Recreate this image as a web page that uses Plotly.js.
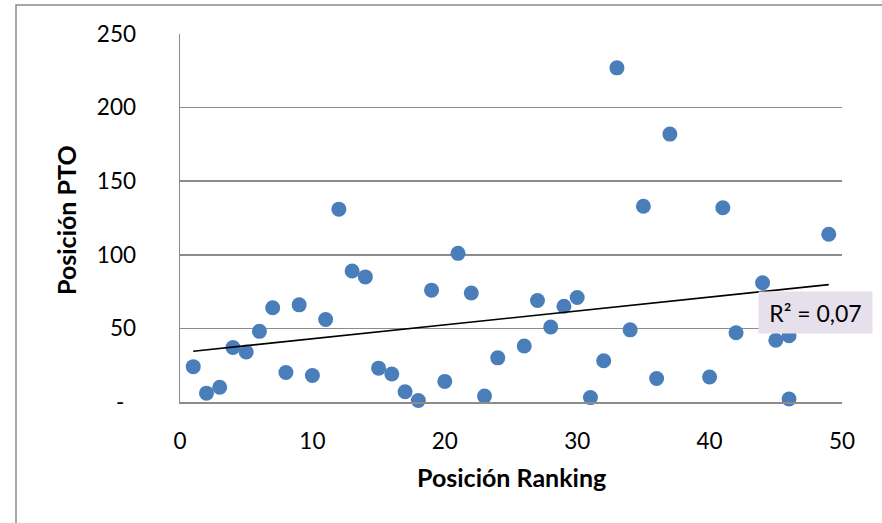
<!DOCTYPE html>
<html>
<head>
<meta charset="utf-8">
<script src="https://cdn.plot.ly/plotly-3.0.1.min.js"></script>
<style>html,body{margin:0;padding:0;background:#fff;}#chart{width:882px;height:523px;}</style>
</head>
<body>
<div id="chart"></div>
<script>
// Posición Ranking (x) vs Posición PTO (y)
var rankingPos = [1,2,3,4,5,6,7,8,9,10,11,12,13,14,15,16,17,18,19,20,21,22,23,24,
                  26,27,28,29,30,31,32,33,34,35,36,37,40,41,42,44,45,46,46,49];
var ptoPos = [24,6,10,37,34,48,64,20,66,18,56,131,89,85,23,19,7,1,76,14,101,74,4,30,
              38,69,51,65,71,3,28,227,49,133,16,182,17,132,47,81,42,45,2,114];
var yTickVals = [0,50,100,150,200,250];
var yTickText = ['-\u00a0\u00a0','50','100','150','200','250'];
var xTickVals = [0,10,20,30,40,50];
var r2Label = 'R² = 0,07';
var xTitle = 'Posición Ranking';
var yTitle = 'Posición PTO';

// linear least-squares trendline from the data
var n = rankingPos.length, sx=0, sy=0, sxx=0, sxy=0;
for (var i=0;i<n;i++){ sx+=rankingPos[i]; sy+=ptoPos[i]; sxx+=rankingPos[i]*rankingPos[i]; sxy+=rankingPos[i]*ptoPos[i]; }
var slope = (n*sxy - sx*sy)/(n*sxx - sx*sx);
var intercept = (sy - slope*sx)/n;
var xMin = Math.min.apply(null, rankingPos), xMax = Math.max.apply(null, rankingPos);
var trendX = [xMin, xMax];
var trendY = trendX.map(function(v){ return intercept + slope*v; });

var fontFam = 'Lato, "Open Sans", sans-serif';
var L=180, R=40, T=34, B=121, W=882, H=523;
var pw = W-L-R, ph = H-T-B;
function px2x(p){ return (p-L)/pw; }
function py2y(p){ return (H-B-p)/ph; }

var traces = [
  { x: rankingPos, y: ptoPos, type:'scatter', mode:'markers',
    marker:{ color:'#4a7ebb', size:15, line:{width:0} }, hoverinfo:'x+y', cliponaxis:false },
  { x: trendX, y: trendY, type:'scatter', mode:'lines',
    line:{ color:'#000000', width:1.6 }, hoverinfo:'skip' }
];

var layout = {
  width: W, height: H,
  margin: { l:L, r:R, t:T, b:B, pad:0 },
  paper_bgcolor:'#ffffff', plot_bgcolor:'#ffffff',
  showlegend:false,
  font:{ family: fontFam, size:22, color:'#000000' },
  xaxis:{ range:[0,50], tickvals:xTickVals, showgrid:false, zeroline:false,
          showline:true, linecolor:'#8c8c8c', linewidth:1.5, ticks:'',
          ticklabelstandoff:18, tickfont:{ family:fontFam, size:22.5, color:'#000' }, fixedrange:true },
  yaxis:{ range:[0,250], tickvals:yTickVals, ticktext:yTickText, showgrid:true,
          gridcolor:'#8c8c8c', gridwidth:1.5, zeroline:false,
          showline:true, linecolor:'#8c8c8c', linewidth:1.5, ticks:'',
          ticklabelstandoff:38, tickfont:{ family:fontFam, size:22.5, color:'#000' }, fixedrange:true },
  shapes:[
    { type:'rect', xref:'paper', yref:'paper', x0:px2x(16), x1:px2x(900), y0:py2y(540), y1:py2y(5),
      line:{ color:'#8c8c8c', width:1.5 }, fillcolor:'rgba(0,0,0,0)', layer:'below' }
  ],
  annotations:[
    { xref:'paper', yref:'paper', x:0.5, y:py2y(477), xanchor:'center', yanchor:'middle',
      text:xTitle, showarrow:false, font:{ family:fontFam, size:25, color:'#000', weight:'bold' } },
    { xref:'paper', yref:'paper', x:px2x(66), y:py2y(220), xanchor:'center', yanchor:'middle',
      text:yTitle, textangle:-90, showarrow:false, font:{ family:fontFam, size:25, color:'#000', weight:'bold' } },
    { xref:'paper', yref:'paper', x:px2x(815.5), y:py2y(312.5), xanchor:'center', yanchor:'middle',
      text:r2Label, showarrow:false, bgcolor:'#e6e0ec', width:113, height:41, borderpad:0,
      font:{ family:fontFam, size:23, color:'#000' } }
  ]
};

Plotly.newPlot('chart', traces, layout, { displayModeBar:false, staticPlot:true });
</script>
</body>
</html>
